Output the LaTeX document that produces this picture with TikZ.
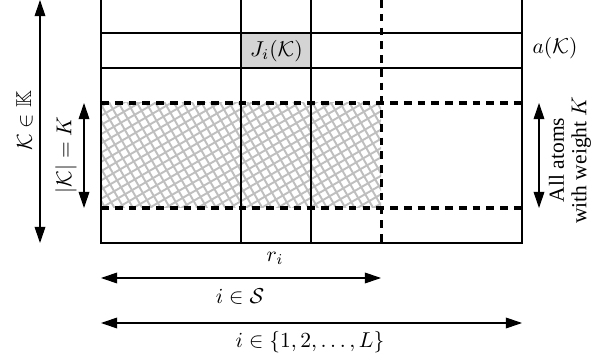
\documentclass[tikz,border=0pt]{standalone}
\usepackage{amssymb}
\usepackage{fontspec}
\newfontfamily\timesfont{Liberation Serif}
\usetikzlibrary{arrows.meta}
\tikzset{
  gridln/.style={line width=0.55pt, black},
  dashln/.style={line width=1.4pt, black, dash pattern=on 3.6pt off 2.8pt},
  hatchln/.style={line width=0.9pt, black!25},
  arr/.style={line width=0.5pt, {Triangle[length=7.5pt,width=5pt]}-{Triangle[length=7.5pt,width=5pt]}},
  lbl/.style={inner sep=0pt, font=\fontsize{10}{12}\selectfont},
}
\begin{document}
\begin{tikzpicture}[x=0.465pt, y=-0.465pt]
\useasboundingbox (0,0) rectangle (611,360);
% hatch
\begin{scope}
  \clip (101,103) rectangle (381,208);
  \foreach \k in {-24,...,24} {
    \draw[hatchln] ({241+\k*8*0.5-300*0.866},{155+\k*8*0.866+300*0.5}) -- ++({600*0.866},{-600*0.5});
    \draw[hatchln] ({241+\k*8*0.866-300*0.5},{155-\k*8*0.5-300*0.866}) -- ++({600*0.5},{600*0.866});
  }
\end{scope}
% shaded cell
\node[fill=black!17, minimum width=70*0.465pt, minimum height=35*0.465pt, inner sep=0pt, anchor=north west, font=\fontsize{10}{12}\selectfont] (cell) at (241,33) {$J_i(\mathcal{K})$};
% grid coordinates
\coordinate (tl) at (101,0);
\coordinate (tr) at (522,0);
\coordinate (bl) at (101,243);
\coordinate (br) at (522,243);
\coordinate (h1l) at (101,33); \coordinate (h1r) at (522,33);
\coordinate (h2l) at (101,68); \coordinate (h2r) at (522,68);
\coordinate (d1l) at (101,103); \coordinate (d1r) at (522,103);
\coordinate (d2l) at (101,208); \coordinate (d2r) at (522,208);
\coordinate (v1t) at (241,0); \coordinate (v1b) at (241,243);
\coordinate (v2t) at (311,0); \coordinate (v2b) at (311,243);
\coordinate (v3t) at (381,0); \coordinate (v3b) at (381,243);
\draw[gridln] (tl) -- (bl) -- (br) -- (tr);
\draw[gridln] (h1l) -- (h1r);
\draw[gridln] (h2l) -- (h2r);
\draw[gridln] (v1t) -- (v1b);
\draw[gridln] (v2t) -- (v2b);
\draw[dashln] (d1l) -- (d1r);
\draw[dashln] (d2l) -- (d2r);
\draw[dashln] (v3t) -- (v3b);
% left arrows
\coordinate (ka) at (40,0); \coordinate (kb) at (40,243);
\draw[arr] (ka) -- (kb);
\node[lbl, rotate=90] (klbl) at (25,121) {$\mathcal{K}\in\mathbb{K}$};
\coordinate (sa) at (84,103); \coordinate (sb) at (84,208);
\draw[arr] (sa) -- (sb);
\node[lbl, rotate=90] (slbl) at (66,155) {$|\mathcal{K}|=K$};
% right
\node[lbl] (alb) at (555,48) {$a(\mathcal{K})$};
\coordinate (ra) at (539,103); \coordinate (rb) at (539,208);
\draw[arr] (ra) -- (rb);
\node[lbl, rotate=90, align=center, font=\fontsize{10}{10.5}\selectfont\timesfont] (wlbl) at (570,160) {All atoms\\with weight $K$};
% bottom
\node[lbl] (rlbl) at (275,258) {$r_i$};
\coordinate (ba) at (101,278); \coordinate (bb) at (381,278);
\draw[arr] (ba) -- (bb);
\node[lbl] (blbl) at (240,297) {$i\in\mathcal{S}$};
\coordinate (ca) at (101,323); \coordinate (cb) at (522,323);
\draw[arr] (ca) -- (cb);
\node[lbl] (clbl) at (310,342) {$i\in\{1,2,\ldots,L\}$};
\end{tikzpicture}
\end{document}
